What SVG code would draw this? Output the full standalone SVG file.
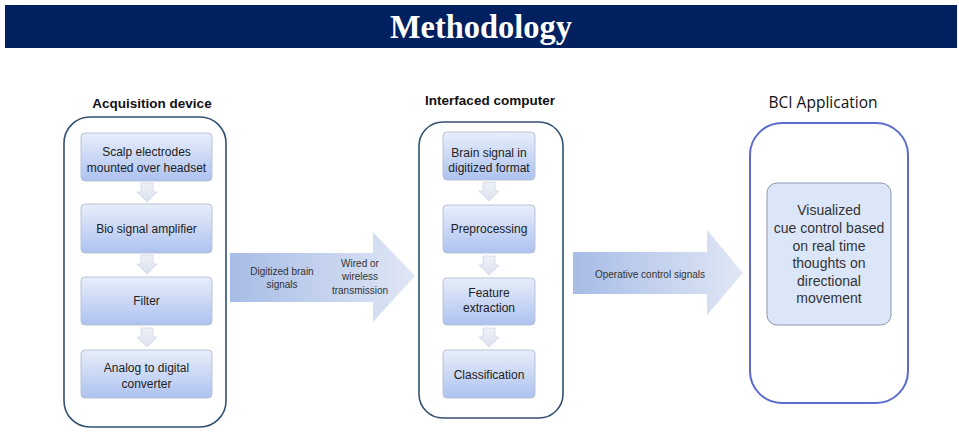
<svg xmlns="http://www.w3.org/2000/svg" width="959" height="434" viewBox="0 0 959 434">
  <defs>
    <linearGradient id="boxGrad" x1="0" y1="0" x2="0" y2="1">
      <stop offset="0" stop-color="#e8eefa"/>
      <stop offset="1" stop-color="#adc2f0"/>
    </linearGradient>
    <linearGradient id="bigArrowGrad" x1="0" y1="0" x2="1" y2="0">
      <stop offset="0" stop-color="#a7bce6"/>
      <stop offset="1" stop-color="#e0e7f5"/>
    </linearGradient>
    <linearGradient id="chevGrad" x1="0" y1="0" x2="0" y2="1">
      <stop offset="0" stop-color="#eef1f7"/>
      <stop offset="1" stop-color="#dbe2ef"/>
    </linearGradient>
  </defs>
  <style>
    .container { fill: none; stroke: #34506f; stroke-width: 1.6; }
    .container2 { fill: none; stroke: #5b6ccc; stroke-width: 2; }
    .box { fill: url(#boxGrad); stroke: #b9c3d7; stroke-width: 1; }
    .chev { fill: url(#chevGrad); stroke: #cfd6e4; stroke-width: 0.8; }
    .bigarrow { fill: url(#bigArrowGrad); }
    .title { font-family: "Liberation Sans", Arial, sans-serif; font-weight: bold; font-size: 13.5px; fill: #111111; text-anchor: middle; }
    .boxtext { font-family: "Liberation Sans", Arial, sans-serif; font-size: 12px; fill: #222222; text-anchor: middle; }
    .arrowtext { font-family: "Liberation Sans", Arial, sans-serif; font-size: 10px; fill: #333333; text-anchor: middle; }
    .apptext { font-family: "Liberation Sans", Arial, sans-serif; font-size: 14px; fill: #333333; text-anchor: middle; }
  </style>

  <rect width="959" height="434" fill="#ffffff"/>

  <!-- Header banner -->
  <g id="header">
    <rect x="5" y="5" width="952" height="43" fill="#002060"/>
    <text x="481" y="38" font-family="'Liberation Serif', 'Times New Roman', serif" font-weight="bold" font-size="33" fill="#ffffff" text-anchor="middle" textLength="182" lengthAdjust="spacingAndGlyphs">Methodology</text>
  </g>

  <!-- Connectors -->
  <g id="connectors">
    <path class="bigarrow" d="M230,253 H373 V232 L415,276 L373,322 V302 H230 Z"/>
    <path class="bigarrow" d="M573,252 H707 V230 L743,273 L707,315 V294 H573 Z"/>
    <path class="chev" d="M141,183 H153 V192 H157 L147,202 L137,192 H141 Z"/>
    <path class="chev" d="M141,255 H153 V264 H157 L147,274 L137,264 H141 Z"/>
    <path class="chev" d="M141,328 H153 V337 H157 L147,347 L137,337 H141 Z"/>
    <path class="chev" d="M483,182 H495 V191 H499 L489,201 L479,191 H483 Z"/>
    <path class="chev" d="M483,256 H495 V265 H499 L489,275 L479,265 H483 Z"/>
    <path class="chev" d="M483,328 H495 V337 H499 L489,347 L479,337 H483 Z"/>
  </g>

  <g id="connector-labels">
    <text class="arrowtext" x="282" y="275">Digitized brain</text>
    <text class="arrowtext" x="282" y="288">signals</text>
    <text class="arrowtext" x="360" y="267">Wired or</text>
    <text class="arrowtext" x="360" y="280">wireless</text>
    <text class="arrowtext" x="360" y="294">transmission</text>
    <text class="arrowtext" x="650" y="278">Operative control signals</text>
  </g>

  <!-- Acquisition device -->
  <g id="acquisition-device">
    <text class="title" x="152" y="108">Acquisition device</text>
    <rect class="container" x="64" y="117" width="162" height="310" rx="26" ry="26"/>
  </g>
  <g id="scalp-electrodes">
    <rect class="box" x="81" y="133" width="131" height="48" rx="4"/>
    <text class="boxtext" x="146.5" y="156">Scalp electrodes</text>
    <text class="boxtext" x="146.5" y="172">mounted over headset</text>
  </g>
  <g id="bio-signal-amplifier">
    <rect class="box" x="81" y="204" width="131" height="49" rx="4"/>
    <text class="boxtext" x="146.5" y="233">Bio signal amplifier</text>
  </g>
  <g id="filter">
    <rect class="box" x="81" y="277" width="131" height="48" rx="4"/>
    <text class="boxtext" x="146.5" y="305">Filter</text>
  </g>
  <g id="analog-to-digital">
    <rect class="box" x="81" y="350" width="131" height="48" rx="4"/>
    <text class="boxtext" x="146.5" y="372">Analog to digital</text>
    <text class="boxtext" x="146.5" y="388">converter</text>
  </g>

  <!-- Interfaced computer -->
  <g id="interfaced-computer">
    <text class="title" x="490" y="105">Interfaced computer</text>
    <rect class="container" x="419" y="122" width="144" height="296" rx="24" ry="24"/>
  </g>
  <g id="brain-signal">
    <rect class="box" x="443" y="132" width="92" height="48" rx="4"/>
    <text class="boxtext" x="489" y="157">Brain signal in</text>
    <text class="boxtext" x="489" y="172">digitized format</text>
  </g>
  <g id="preprocessing">
    <rect class="box" x="443" y="205" width="92" height="48" rx="4"/>
    <text class="boxtext" x="489" y="233">Preprocessing</text>
  </g>
  <g id="feature-extraction">
    <rect class="box" x="443" y="278" width="92" height="47" rx="4"/>
    <text class="boxtext" x="489" y="297">Feature</text>
    <text class="boxtext" x="489" y="312">extraction</text>
  </g>
  <g id="classification">
    <rect class="box" x="443" y="350" width="92" height="48" rx="4"/>
    <text class="boxtext" x="489" y="379">Classification</text>
  </g>

  <!-- BCI Application -->
  <g id="bci-application">
    <text x="823" y="108" font-family="'Open Sans', 'Noto Sans', sans-serif" font-size="15.5" fill="#111111" text-anchor="middle">BCI Application</text>
    <rect class="container2" x="750" y="123" width="158" height="280" rx="32" ry="32"/>
  </g>
  <g id="visualized-cue">
    <rect x="767" y="183" width="124" height="142" rx="10" ry="10" fill="#dce6f9" stroke="#8d99b3" stroke-width="1"/>
    <text class="apptext" x="829" y="215">Visualized</text>
    <text class="apptext" x="829" y="233">cue control based</text>
    <text class="apptext" x="829" y="251">on real time</text>
    <text class="apptext" x="829" y="268">thoughts on</text>
    <text class="apptext" x="829" y="286">directional</text>
    <text class="apptext" x="829" y="303">movement</text>
  </g>
</svg>
